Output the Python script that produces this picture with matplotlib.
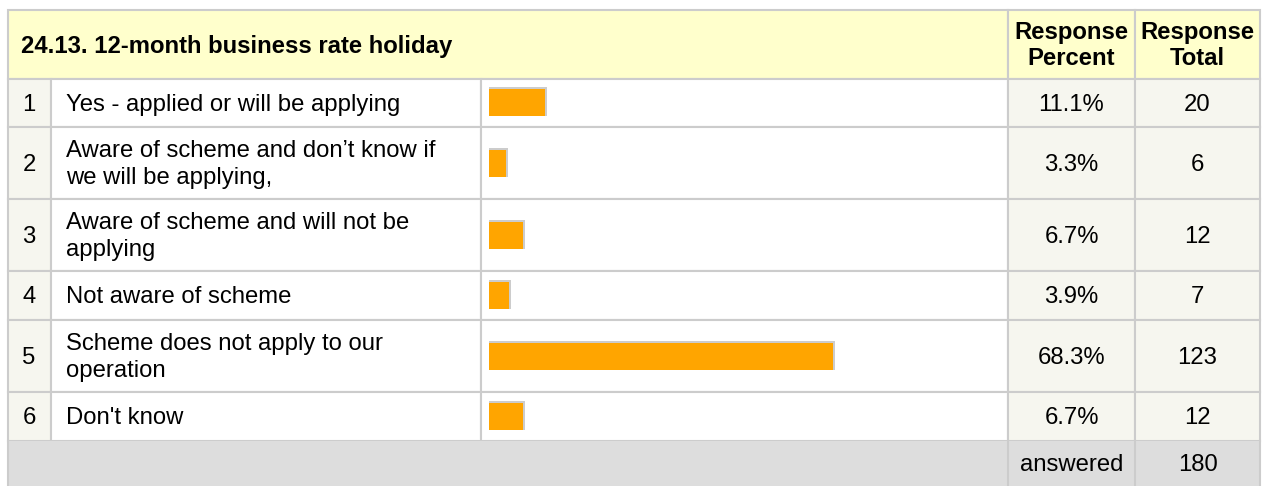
import matplotlib
matplotlib.use("Agg")
from matplotlib import pyplot as plt
from matplotlib.patches import Rectangle

# survey data
question = "24.13. 12-month business rate holiday"
answers = [
    "Yes - applied or will be applying",
    "Aware of scheme and don\u2019t know if\nwe will be applying,",
    "Aware of scheme and will not be\napplying",
    "Not aware of scheme",
    "Scheme does not apply to our\noperation",
    "Don't know",
]
percents = [11.1, 3.3, 6.7, 3.9, 68.3, 6.7]
totals = [20, 6, 12, 7, 123, 12]
answered = 180

W, H = 1266, 486
FS = 17.2
plt.rcParams["font.family"] = ["Liberation Sans", "DejaVu Sans"]

# table layout in pixels
col_x = [8, 51, 481, 1008, 1135, 1260]
row_y = [79, 127, 199, 271, 320, 392, 441]
top, bottom = 10, 486
grid = "#cccccc"
cream = "#f6f6ef"
dy = 1.5  # small nudge so text sits like the browser render

fig = plt.figure(figsize=(W / 100, H / 100), dpi=100)
ax = fig.add_axes([0, 0, 1, 1])
ax.set_xlim(0, W)
ax.set_ylim(H, 0)
ax.axis("off")


def cell(x0, x1, y0, y1, color):
    ax.add_patch(Rectangle((x0, y0), x1 - x0, y1 - y0, facecolor=color,
                           edgecolor=grid, linewidth=1.5, zorder=1))


# header
cell(col_x[0], col_x[3], top, row_y[0], "#ffffcc")
cell(col_x[3], col_x[4], top, row_y[0], "#ffffcc")
cell(col_x[4], col_x[5], top, row_y[0], "#ffffcc")
hy = (top + row_y[0]) / 2
ax.text(21, hy + dy, question, fontsize=FS, fontweight="bold", va="center", ha="left")
ax.text((col_x[3] + col_x[4]) / 2, hy + 1, "Response\nPercent", fontsize=FS,
        fontweight="bold", ha="center", va="center", linespacing=1.2)
ax.text((col_x[4] + col_x[5]) / 2, hy + 1, "Response\nTotal", fontsize=FS,
        fontweight="bold", ha="center", va="center", linespacing=1.2)

# answer rows
centers = []
for i, label in enumerate(answers):
    y0, y1 = row_y[i], row_y[i + 1]
    yc = (y0 + y1) / 2
    centers.append(yc)
    cell(col_x[0], col_x[1], y0, y1, cream)
    cell(col_x[1], col_x[2], y0, y1, "white")
    cell(col_x[2], col_x[3], y0, y1, "white")
    cell(col_x[3], col_x[4], y0, y1, cream)
    cell(col_x[4], col_x[5], y0, y1, cream)
    ax.text((col_x[0] + col_x[1]) / 2 - 0.5, yc + dy, str(i + 1), fontsize=FS,
            ha="center", va="center")
    ax.text(66, yc + dy, label, fontsize=FS, ha="left", va="center", linespacing=1.24)
    ax.text((col_x[3] + col_x[4]) / 2, yc + dy, f"{percents[i]:.1f}%", fontsize=FS,
            ha="center", va="center")
    ax.text((col_x[4] + col_x[5]) / 2, yc + dy, str(totals[i]), fontsize=FS,
            ha="center", va="center")

# answered row
ax.add_patch(Rectangle((col_x[0], row_y[-1]), col_x[5] - col_x[0], bottom - row_y[-1],
                       facecolor="#dddddd", edgecolor="none", zorder=1))
for xv in (col_x[0], col_x[3], col_x[4], col_x[5]):
    ax.plot([xv, xv], [row_y[-1], bottom], color=grid, lw=1.5, zorder=2)
ya = (row_y[-1] + bottom) / 2
ax.text((col_x[3] + col_x[4]) / 2, ya + dy, "answered", fontsize=FS, ha="center", va="center")
ax.text((col_x[4] + col_x[5]) / 2, ya + dy, str(answered), fontsize=FS, ha="center", va="center")

# bars on their own axes: 0-100 % across the bar column
bar_left, bar_span = 489, 504
bax = fig.add_axes([bar_left / W, 0, bar_span / W, 1])
bax.set_xlim(0, 100)
bax.set_ylim(H, 0)
bax.axis("off")
bax.patch.set_alpha(0)
bax.barh([c - 1 for c in centers], [p + 0.4 for p in percents], height=29,
         color="#cccccc", zorder=1)
bax.barh(centers, percents, height=27, color="#ffa500", zorder=2)

fig.savefig("out.png", dpi=100)
